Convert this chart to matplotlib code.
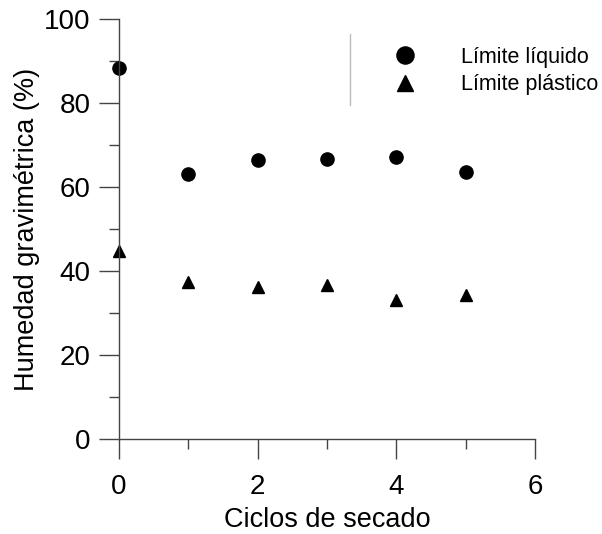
import matplotlib
matplotlib.use("Agg")
import matplotlib.pyplot as plt
from matplotlib.lines import Line2D
from matplotlib.ticker import MultipleLocator

plt.rcParams["font.family"] = ["Liberation Sans", "DejaVu Sans"]

ciclos = [0, 1, 2, 3, 4, 5]
limite_liquido = [88.5, 63.1, 66.5, 66.8, 67.1, 63.6]
limite_plastico = [44.9, 37.5, 36.3, 36.6, 33.2, 34.2]

fig = plt.figure(figsize=(6.02, 5.34), dpi=100)
ax = fig.add_axes([119 / 602, 1 - 439 / 534, (535 - 119) / 602, (439 - 19.3) / 534])

ax.plot(ciclos, limite_liquido, "o", color="black", markersize=9.5,
        linestyle="none", label="Límite líquido", clip_on=False)
ax.plot(ciclos, limite_plastico, "^", color="black", markersize=8.5,
        linestyle="none", label="Límite plástico", clip_on=False)

ax.set_xlim(0, 6)
ax.set_ylim(0, 100)
ax.xaxis.set_major_locator(MultipleLocator(2))
ax.xaxis.set_minor_locator(MultipleLocator(1))
ax.yaxis.set_major_locator(MultipleLocator(20))
ax.yaxis.set_minor_locator(MultipleLocator(10))

for s in ["top", "right"]:
    ax.spines[s].set_visible(False)
for s in ["left", "bottom"]:
    ax.spines[s].set_color("#444444")
    ax.spines[s].set_linewidth(1)

ax.tick_params(which="major", length=14.4, width=1, color="#444444",
               labelsize=20, direction="out")
ax.tick_params(which="minor", length=7.2, width=1, color="#444444", direction="out")
ax.tick_params(axis="x", which="major", pad=11)
ax.tick_params(axis="y", which="major", pad=6)

ax.set_xlabel("Ciclos de secado", fontsize=19.5, labelpad=5)
ax.set_ylabel("Humedad gravimétrica (%)", fontsize=19.5, labelpad=3)

ax.legend(loc="upper left", bbox_to_anchor=(0.636, 0.935), frameon=False,
          fontsize=15.5, markerscale=1.3, handlelength=2.0, handletextpad=1.6,
          labelspacing=0.3, borderaxespad=0, borderpad=0)

# thin gray line left of the legend
ax.add_line(Line2D([0.555, 0.555], [0.795, 0.965], transform=ax.transAxes,
                   color="#bbbbbb", linewidth=1))

fig.savefig("out.png", dpi=100)
